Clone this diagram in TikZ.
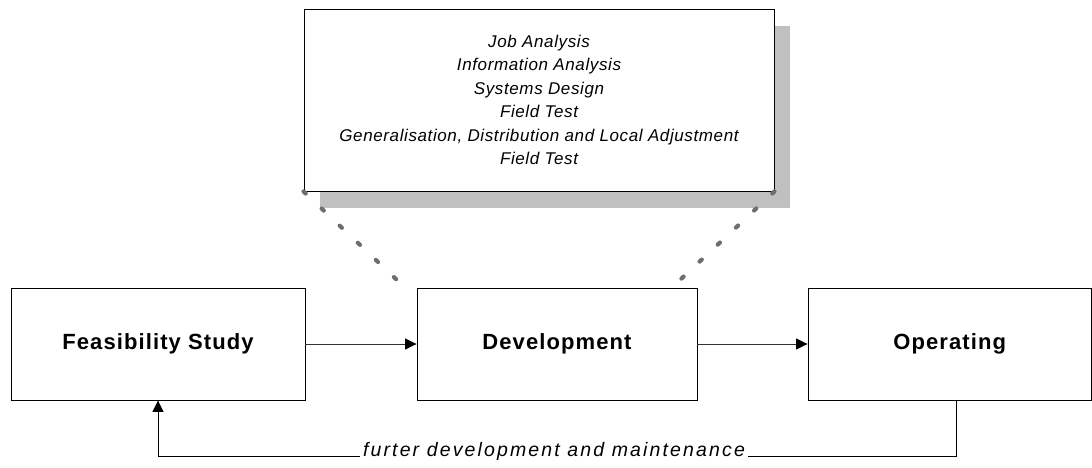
\documentclass[tikz,border=0pt]{standalone}
\usepackage{fontspec}
\setmainfont{Liberation Sans}
\newfontfamily\boxfont{Liberation Sans}[LetterSpace=5]
\newfontfamily\listfont{Liberation Sans}[LetterSpace=3.6]
\newfontfamily\labelfont{Liberation Sans}[LetterSpace=11]
\usetikzlibrary{arrows.meta,positioning}
\definecolor{shadowgray}{HTML}{C0C0C0}
\definecolor{dotgray}{HTML}{6E6E6E}
\definecolor{linegray}{HTML}{333333}
\tikzset{
  stagebox/.style={draw=black, line width=0.9pt, fill=white, inner sep=0pt,
    font=\boxfont\bfseries\fontsize{22}{26}\selectfont},
  flowarrow/.style={draw=linegray, line width=0.9pt,
    -{Triangle[length=11.5pt,width=11pt,color=black,fill=black]}},
  zoomline/.style={draw=dotgray, line width=4.2pt, line cap=round,
    dash pattern=on 3pt off 21.9pt},
}
\begin{document}
\begin{tikzpicture}[x=1pt,y=-1pt]
  \useasboundingbox (0,0) rectangle (1092,468);
  % detail box with its drop shadow
  \fill[shadowgray] (320,26) rectangle (790,208);
  \node[draw=black, line width=0.9pt, fill=white, minimum width=470pt, minimum height=182pt,
        inner sep=0pt, align=center,
        font=\listfont\itshape\fontsize{17}{23.4}\selectfont] (detail) at (539,100)
    {Job Analysis\\ Information Analysis\\ Systems Design\\ Field Test\\
     Generalisation, Distribution and Local Adjustment\\ Field Test};
  % the three stages
  \node[stagebox, minimum width=294pt, minimum height=112pt] (feas) at (158,344) {Feasibility Study};
  \node[stagebox, minimum width=280pt, minimum height=112pt] (dev) at (557,344) {Development};
  \node[stagebox, minimum width=283.5pt, minimum height=112pt] (op) at (949.75,344) {Operating};
  % dotted lines fanning from the detail box towards Development
  \coordinate (zl) at (396.5,279.5);
  \coordinate (zr) at (680.5,279.5);
  \draw[zoomline] (detail.south west) -- (zl);
  \draw[zoomline] (detail.south east) -- (zr);
  % forward flow
  \draw[flowarrow] (feas.east) -- (dev.west);
  \draw[flowarrow] (dev.east) -- (op.west);
  % feedback loop
  \node[inner sep=3pt, font=\labelfont\itshape\fontsize{19.5}{23}\selectfont] (loop) at (554,451)
    {furter development and maintenance};
  \draw[draw=black, line width=0.9pt] ([xshift=6.25pt]op.south) |- ([yshift=-5pt]loop.east);
  \draw[flowarrow, draw=black] ([yshift=-5pt]loop.west) -| (feas.south);
\end{tikzpicture}
\end{document}
